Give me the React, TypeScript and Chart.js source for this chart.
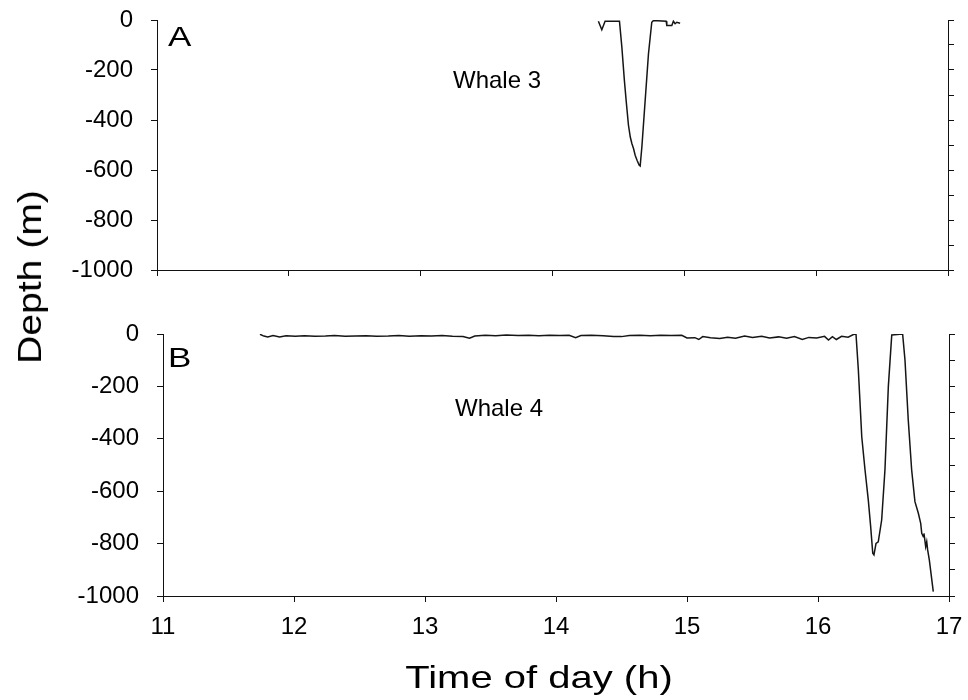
import React, { useEffect, useRef } from "react";
import { Chart, registerables } from "chart.js";

Chart.register(...registerables);

// ---- data ----
const xTickValues = [11, 12, 13, 14, 15, 16, 17];
const yRange = [-1000, 0];

const whale3Time = [
  14.348, 14.374, 14.399, 14.508, 14.526, 14.545, 14.56, 14.576, 14.59, 14.602,
  14.615, 14.627, 14.642, 14.657, 14.665, 14.678, 14.703, 14.728, 14.753, 14.766,
  14.862, 14.867, 14.905, 14.917, 14.93, 14.943, 14.968,
];
const whale3Depth = [
  -5, -39, -5, -5, -108, -240, -330, -420, -468, -494,
  -515, -541, -562, -580, -584, -507, -321, -135, -9, -2,
  -5, -22, -22, -5, -15, -9, -13,
];

const whale4Time = [
  11.74, 11.77, 11.8, 11.84, 11.89, 11.94, 12.01, 12.08, 12.16, 12.24,
  12.31, 12.39, 12.47, 12.55, 12.63, 12.72, 12.8, 12.88, 12.97, 13.05,
  13.13, 13.21, 13.29, 13.34, 13.38, 13.46, 13.54, 13.62, 13.71, 13.79,
  13.87, 13.95, 14.03, 14.1, 14.15, 14.19, 14.27, 14.36, 14.44, 14.5,
  14.56, 14.64, 14.72, 14.8, 14.88, 14.96, 15.0, 15.06, 15.09, 15.12,
  15.18, 15.25, 15.31, 15.37, 15.44, 15.5, 15.57, 15.63, 15.7, 15.76,
  15.82, 15.88, 15.93, 15.99, 16.05, 16.08, 16.11, 16.14, 16.18, 16.23,
  16.27, 16.29, 16.308, 16.334, 16.359, 16.384, 16.402, 16.418, 16.427, 16.443,
  16.46, 16.486, 16.511, 16.537, 16.563, 16.646, 16.664, 16.689, 16.715, 16.74,
  16.766, 16.784, 16.792, 16.804, 16.809, 16.822, 16.83, 16.837, 16.85, 16.88,
];
const whale4Depth = [
  -1, -8, -11, -6, -11, -7, -9, -7, -9, -8,
  -6, -9, -8, -7, -9, -8, -6, -9, -7, -8,
  -6, -9, -10, -16, -8, -5, -7, -4, -6, -5,
  -7, -5, -6, -5, -14, -6, -5, -7, -10, -10,
  -6, -5, -7, -5, -6, -5, -15, -14, -21, -10,
  -14, -17, -12, -16, -8, -13, -9, -15, -11, -16,
  -10, -21, -13, -15, -9, -23, -10, -21, -9, -12,
  -2, 0, -137, -392, -519, -634, -735, -837, -843, -799,
  -793, -710, -519, -200, -4, 0, -99, -328, -519, -640,
  -684, -723, -761, -774, -761, -812, -793, -824, -863, -983,
];

const FONT = "'Liberation Sans', Arial, sans-serif";
const AXIS_COLOR = "#111";

type PanelCfg = {
  times: number[];
  depths: number[];
  showXLabels: boolean;
  leftWidth: number;
  rightWidth: number;
  topPad: number;
  bottomHeight: number;
};

function zeroPadding(s: any) {
  s.paddingTop = 0;
  s.paddingBottom = 0;
  s.paddingLeft = 0;
  s.paddingRight = 0;
}

function buildConfig(cfg: PanelCfg): any {
  const grid = {
    drawOnChartArea: false,
    drawTicks: true,
    tickLength: 6,
    color: AXIS_COLOR,
    lineWidth: 1,
  };
  const border = { display: true, color: AXIS_COLOR, width: 1 };
  return {
    type: "line",
    data: {
      datasets: [
        {
          data: cfg.times.map((t, i) => ({ x: t, y: cfg.depths[i] })),
          borderColor: "#151515",
          borderWidth: 1.5,
          pointRadius: 0,
          tension: 0,
          fill: false,
        },
      ],
    },
    options: {
      animation: false,
      responsive: false,
      devicePixelRatio: 1,
      layout: { padding: { top: cfg.topPad, left: 0, right: 0, bottom: 0 } },
      plugins: { legend: { display: false }, tooltip: { enabled: false } },
      scales: {
        x: {
          type: "linear",
          min: xTickValues[0],
          max: xTickValues[xTickValues.length - 1],
          afterBuildTicks: (s: any) => {
            s.ticks = xTickValues.map((v) => ({ value: v }));
          },
          ticks: {
            display: cfg.showXLabels,
            font: { family: FONT, size: 24 },
            color: "#000",
            padding: 11,
            maxRotation: 0,
            callback: (v: any) => String(v),
          },
          grid,
          border,
          afterFit: (s: any) => {
            s.height = cfg.bottomHeight;
            zeroPadding(s);
          },
        },
        y: {
          type: "linear",
          position: "left",
          min: yRange[0],
          max: yRange[1],
          ticks: {
            stepSize: 100,
            font: { family: FONT, size: 24 },
            color: "#000",
            padding: 18,
            callback: (v: any) => (Number(v) % 200 === 0 ? String(v) : ""),
          },
          grid,
          border,
          afterFit: (s: any) => {
            s.width = cfg.leftWidth;
            zeroPadding(s);
          },
        },
        y2: {
          type: "linear",
          position: "right",
          min: yRange[0],
          max: yRange[1],
          ticks: { stepSize: 100, display: false },
          grid,
          border,
          afterFit: (s: any) => {
            s.width = cfg.rightWidth;
            zeroPadding(s);
          },
        },
      },
    },
  };
}

function Panel(props: { cfg: PanelCfg; top: number; height: number }) {
  const ref = useRef<HTMLCanvasElement | null>(null);
  useEffect(() => {
    if (!ref.current) return;
    const chart = new Chart(ref.current, buildConfig(props.cfg));
    return () => chart.destroy();
  }, []);
  return (
    <canvas
      ref={ref}
      width={968}
      height={props.height}
      style={{ position: "absolute", left: 0, top: props.top, width: 968, height: props.height }}
    />
  );
}

const textBase: React.CSSProperties = {
  position: "absolute",
  fontFamily: FONT,
  lineHeight: 1,
  color: "#000",
  whiteSpace: "nowrap",
  transformOrigin: "left top",
};

export default function App() {
  const cfgA: PanelCfg = {
    times: whale3Time,
    depths: whale3Depth,
    showXLabels: false,
    leftWidth: 157,
    rightWidth: 20,
    topPad: 20,
    bottomHeight: 20,
  };
  const cfgB: PanelCfg = {
    times: whale4Time,
    depths: whale4Depth,
    showXLabels: true,
    leftWidth: 163,
    rightWidth: 19,
    topPad: 34,
    bottomHeight: 104,
  };
  return (
    <div style={{ position: "absolute", left: 0, top: 0, width: 968, height: 700, background: "#fff", overflow: "hidden" }}>
      <Panel cfg={cfgA} top={0} height={290} />
      <Panel cfg={cfgB} top={300} height={400} />
      <div style={{ ...textBase, left: 168, top: 23, fontSize: 28, transform: "scaleX(1.25)" }}>A</div>
      <div style={{ ...textBase, left: 168, top: 344, fontSize: 28, transform: "scaleX(1.25)" }}>B</div>
      <div style={{ ...textBase, left: 453, top: 68, fontSize: 24 }}>Whale 3</div>
      <div style={{ ...textBase, left: 455, top: 396, fontSize: 24 }}>Whale 4</div>
      <div
        style={{
          ...textBase,
          left: 539,
          top: 677,
          fontSize: 32,
          transformOrigin: "center center",
          transform: "translate(-50%, -50%) scaleX(1.25)",
        }}
      >
        Time of day (h)
      </div>
      <div
        style={{
          ...textBase,
          left: 29,
          top: 277,
          fontSize: 34,
          transformOrigin: "center center",
          transform: "translate(-50%, -50%) rotate(-90deg) scaleX(1.15)",
        }}
      >
        Depth (m)
      </div>
    </div>
  );
}
